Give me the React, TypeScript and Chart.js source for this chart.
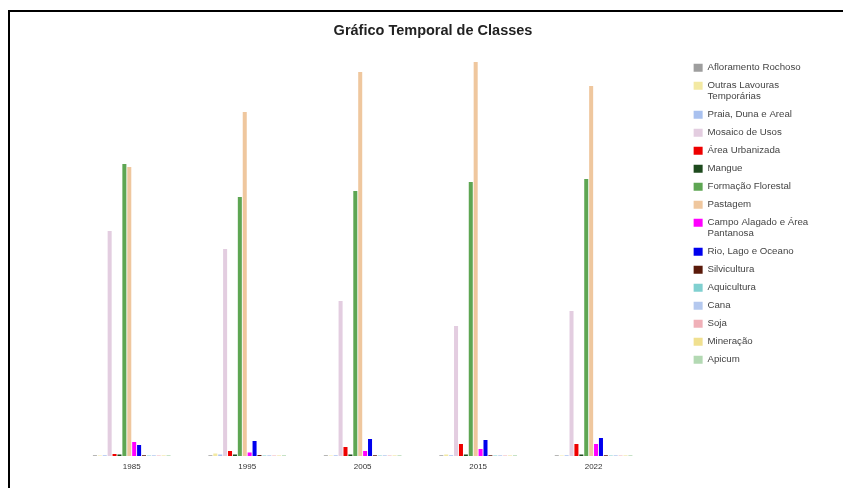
import React, { useEffect, useRef } from "react";
import { Chart, registerables } from "chart.js";

Chart.register(...registerables);

const years = ["1985", "1995", "2005", "2015", "2022"];

const classNames = [
  "Afloramento Rochoso",
  "Outras Lavouras Temporárias",
  "Praia, Duna e Areal",
  "Mosaico de Usos",
  "Área Urbanizada",
  "Mangue",
  "Formação Florestal",
  "Pastagem",
  "Campo Alagado e Área Pantanosa",
  "Rio, Lago e Oceano",
  "Silvicultura",
  "Aquicultura",
  "Cana",
  "Soja",
  "Mineração",
  "Apicum",
];

const legendLines: Record<string, string[]> = {
  "Outras Lavouras Temporárias": ["Outras Lavouras", "Temporárias"],
  "Campo Alagado e Área Pantanosa": ["Campo Alagado e Área", "Pantanosa"],
};

const classColors = [
  "#9e9e9e",
  "#f3e9a3",
  "#a9c1ef",
  "#e3cde0",
  "#ee0000",
  "#1e4a1e",
  "#5ea653",
  "#efc79e",
  "#ff00ff",
  "#0000ee",
  "#5a1a0a",
  "#80d0d0",
  "#b4c8ee",
  "#f0b0b8",
  "#f0e090",
  "#b3d9b3",
];

// area per class (ha), one value per year
const afloramento = [80, 80, 80, 80, 80];
const outrasLavouras = [50, 250, 50, 150, 50];
const praia = [80, 150, 80, 80, 80];
const mosaico = [22500, 20700, 15500, 13000, 14500];
const urbanizada = [200, 500, 900, 1200, 1200];
const mangue = [150, 150, 150, 150, 150];
const florestal = [29200, 25900, 26500, 27400, 27700];
const pastagem = [28900, 34400, 38400, 39400, 37000];
const campoAlagado = [1400, 350, 500, 700, 1200];
const rio = [1100, 1500, 1700, 1600, 1800];
const silvicultura = [80, 100, 80, 80, 80];
const aquicultura = [50, 50, 50, 50, 50];
const cana = [80, 80, 80, 80, 80];
const soja = [50, 50, 50, 50, 50];
const mineracao = [50, 50, 50, 50, 50];
const apicum = [80, 80, 80, 80, 80];

const seriesValues = [
  afloramento,
  outrasLavouras,
  praia,
  mosaico,
  urbanizada,
  mangue,
  florestal,
  pastagem,
  campoAlagado,
  rio,
  silvicultura,
  aquicultura,
  cana,
  soja,
  mineracao,
  apicum,
];

const yMax = 40150;
const FONT = "'Liberation Sans', Arial, sans-serif";

export default function App() {
  const ref = useRef<HTMLCanvasElement | null>(null);

  useEffect(() => {
    if (!ref.current) return;
    const chart = new Chart(ref.current, {
      type: "bar",
      data: {
        labels: years,
        datasets: classNames.map((name, i) => ({
          label: name,
          data: seriesValues[i],
          backgroundColor: classColors[i],
          borderWidth: 0,
          categoryPercentage: 0.68,
          barPercentage: 0.82,
        })),
      },
      options: {
        responsive: false,
        animation: false,
        layout: { padding: { left: 44.5, right: 23.5, top: 0, bottom: 1.4 } },
        plugins: {
          tooltip: { enabled: false },
          title: {
            display: true,
            text: "Gráfico Temporal de Classes",
            color: "#222",
            font: { family: FONT, size: 14.5, weight: "bold", lineHeight: 1.2 },
            padding: { top: 10, bottom: 15.1 },
          },
          legend: {
            position: "right",
            align: "start",
            fullSize: false,
            labels: {
              boxWidth: 9,
              boxHeight: 8,
              padding: 8.3,
              color: "#444",
              font: { family: FONT, size: 9.7, lineHeight: 1.07 },
              generateLabels: (c: any) => {
                const items = Chart.defaults.plugins.legend.labels.generateLabels(c);
                return items.map((it: any) => ({
                  ...it,
                  text: legendLines[it.text] ? legendLines[it.text] : it.text,
                }));
              },
            },
          },
        },
        scales: {
          x: {
            grid: { display: false, drawTicks: false },
            border: { display: false },
            ticks: {
              color: "#333",
              padding: 5.5,
              font: { family: FONT, size: 8, lineHeight: 1.2 },
            },
          },
          y: {
            min: 0,
            max: yMax,
            grid: { display: false, drawTicks: false },
            border: { display: false },
            ticks: { display: false },
            afterFit: (s: any) => {
              s.width = 19.5;
            },
          },
          spacer: {
            position: "right",
            grid: { display: false, drawTicks: false },
            border: { display: false },
            ticks: { display: false },
            afterFit: (s: any) => {
              s.width = 34;
            },
          },
        },
      } as any,
    });
    return () => chart.destroy();
  }, []);

  return (
    <div
      style={{
        position: "fixed",
        left: 8,
        top: 10,
        right: -20,
        bottom: -20,
        borderLeft: "2px solid #000",
        borderTop: "2px solid #000",
        background: "#fff",
      }}
    >
      <canvas ref={ref} width={825} height={466} style={{ display: "block" }} />
    </div>
  );
}
